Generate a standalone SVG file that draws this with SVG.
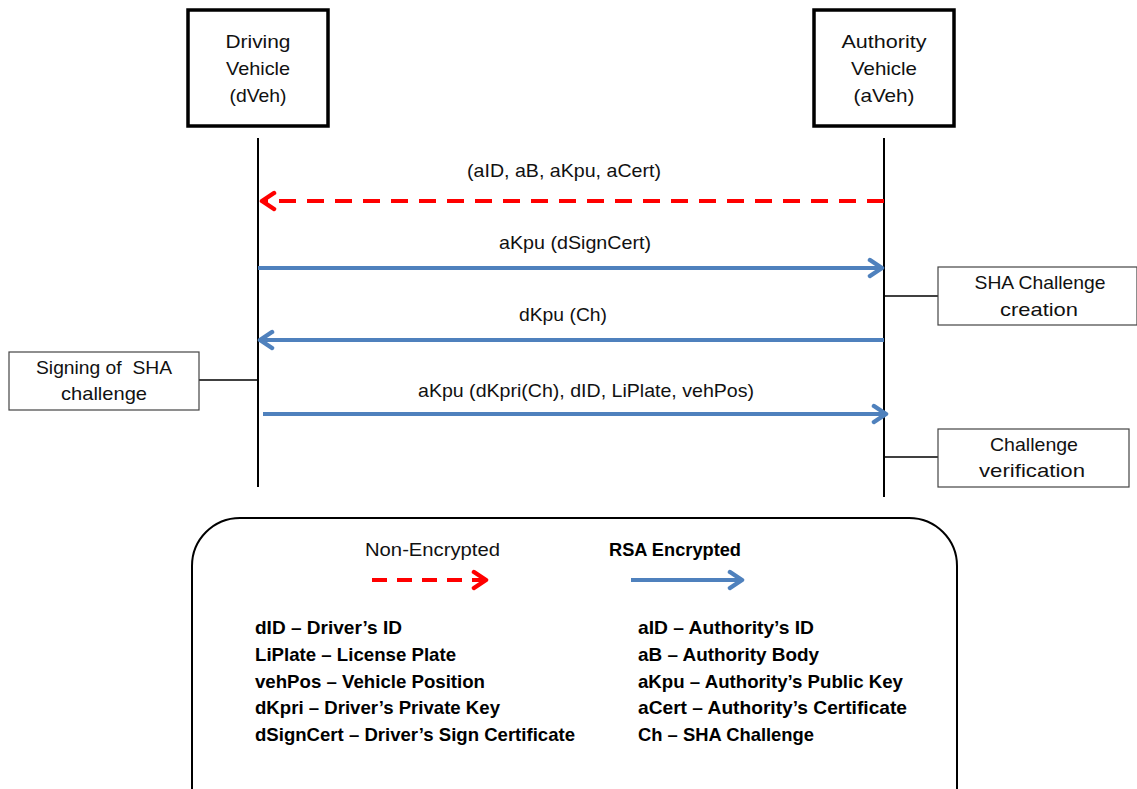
<svg xmlns="http://www.w3.org/2000/svg" width="1137" height="789" viewBox="0 0 1137 789">
  <style>
    text { font-family: "Liberation Sans", Arial, sans-serif; font-size: 18.5px; fill: #111; white-space: pre; }
    .mid { text-anchor: middle; }
    .bold { font-family: "Liberation Sans Narrow", "Liberation Sans", Arial, sans-serif; font-weight: bold; font-size: 19px; fill: #000; }
    .actor { fill: #fff; stroke: #000; stroke-width: 3.5; }
    .note { fill: #fff; stroke: #444; stroke-width: 1.2; }
    .life { stroke: #000; stroke-width: 2; fill: none; }
    .tick { stroke: #000; stroke-width: 1.6; fill: none; }
    .plain { stroke: #000; stroke-width: 2; fill: none; }
    .enc { stroke: #4F81BD; stroke-width: 4; fill: none; }
    .raw { stroke: #FF0000; stroke-width: 4; fill: none; stroke-dasharray: 17 11; }
  </style>
  <defs>
    <marker id="headBlue" markerUnits="userSpaceOnUse" viewBox="0 0 18 22" refX="15" refY="11" markerWidth="18" markerHeight="22" orient="auto">
      <path d="M3,3 L15,11 L3,19" fill="none" stroke="#4F81BD" stroke-width="4.5" stroke-linecap="round" stroke-linejoin="round"/>
    </marker>
    <marker id="headRed" markerUnits="userSpaceOnUse" viewBox="0 0 18 22" refX="15" refY="11" markerWidth="18" markerHeight="22" orient="auto">
      <path d="M3,3 L15,11 L3,19" fill="none" stroke="#FF0000" stroke-width="4.5" stroke-linecap="round" stroke-linejoin="round"/>
    </marker>
  </defs>

  <rect width="1137" height="789" fill="#fff"/>

  <!-- participants -->
  <g id="dVeh">
    <rect class="actor" x="188" y="10" width="140" height="116"/>
    <text class="mid" x="258" y="48" textLength="65" lengthAdjust="spacingAndGlyphs">Driving</text>
    <text class="mid" x="258" y="75" textLength="64" lengthAdjust="spacingAndGlyphs">Vehicle</text>
    <text class="mid" x="258" y="102" textLength="57" lengthAdjust="spacingAndGlyphs">(dVeh)</text>
  </g>
  <g id="aVeh">
    <rect class="actor" x="814" y="10" width="140" height="116"/>
    <text class="mid" x="884" y="48" textLength="85" lengthAdjust="spacingAndGlyphs">Authority</text>
    <text class="mid" x="884" y="75" textLength="66" lengthAdjust="spacingAndGlyphs">Vehicle</text>
    <text class="mid" x="884" y="102" textLength="61" lengthAdjust="spacingAndGlyphs">(aVeh)</text>
  </g>

  <!-- lifelines -->
  <g id="lifelines">
    <line class="life" x1="258" y1="138" x2="258" y2="487"/>
    <line class="life" x1="884" y1="138" x2="884" y2="497"/>
  </g>

  <!-- local processing notes -->
  <g id="noteCreate">
    <line class="tick" x1="884" y1="296" x2="938" y2="296"/>
    <rect class="note" x="938" y="267" width="199" height="58"/>
    <text class="mid" x="1040" y="289" textLength="131" lengthAdjust="spacingAndGlyphs">SHA Challenge</text>
    <text class="mid" x="1039" y="316" textLength="78" lengthAdjust="spacingAndGlyphs">creation</text>
  </g>
  <g id="noteVerify">
    <line class="tick" x1="884" y1="457" x2="938" y2="457"/>
    <rect class="note" x="938" y="429" width="191" height="58"/>
    <text class="mid" x="1034" y="451" textLength="88" lengthAdjust="spacingAndGlyphs">Challenge</text>
    <text class="mid" x="1032" y="477" textLength="106" lengthAdjust="spacingAndGlyphs">verification</text>
  </g>
  <g id="noteSign">
    <line class="tick" x1="199" y1="380" x2="258" y2="380"/>
    <rect class="note" x="9" y="352" width="190" height="58"/>
    <text class="mid" x="104" y="374" textLength="136" lengthAdjust="spacingAndGlyphs">Signing of  SHA</text>
    <text class="mid" x="104" y="400" textLength="86" lengthAdjust="spacingAndGlyphs">challenge</text>
  </g>

  <!-- messages -->
  <g id="messages">
    <line class="raw" x1="884" y1="201" x2="262" y2="201" marker-end="url(#headRed)"/>
    <text class="mid" x="564" y="177" textLength="194" lengthAdjust="spacingAndGlyphs">(aID, aB, aKpu, aCert)</text>

    <line class="enc" x1="258" y1="268" x2="882" y2="268" marker-end="url(#headBlue)"/>
    <text class="mid" x="575" y="249" textLength="152" lengthAdjust="spacingAndGlyphs">aKpu (dSignCert)</text>

    <line class="enc" x1="884" y1="340" x2="260" y2="340" marker-end="url(#headBlue)"/>
    <text class="mid" x="563" y="321" textLength="88" lengthAdjust="spacingAndGlyphs">dKpu (Ch)</text>

    <line class="enc" x1="263" y1="414" x2="886" y2="414" marker-end="url(#headBlue)"/>
    <text class="mid" x="586" y="397" textLength="336" lengthAdjust="spacingAndGlyphs">aKpu (dKpri(Ch), dID, LiPlate, vehPos)</text>
  </g>

  <!-- legend -->
  <g id="legend">
    <rect class="plain" x="192" y="518" width="765" height="320" rx="48" ry="48"/>
    <text x="365" y="556" textLength="135" lengthAdjust="spacingAndGlyphs">Non-Encrypted</text>
    <text class="bold" x="609" y="556" textLength="132" lengthAdjust="spacingAndGlyphs">RSA Encrypted</text>
    <line class="raw" x1="372" y1="580" x2="486" y2="580" marker-end="url(#headRed)" style="stroke-dasharray: 15 10"/>
    <line class="enc" x1="631" y1="580" x2="742" y2="580" marker-end="url(#headBlue)"/>

    <text class="bold" x="255" y="634" textLength="147" lengthAdjust="spacingAndGlyphs">dID – Driver’s ID</text>
    <text class="bold" x="255" y="661" textLength="201" lengthAdjust="spacingAndGlyphs">LiPlate – License Plate</text>
    <text class="bold" x="255" y="688" textLength="230" lengthAdjust="spacingAndGlyphs">vehPos – Vehicle Position</text>
    <text class="bold" x="255" y="714" textLength="245" lengthAdjust="spacingAndGlyphs">dKpri – Driver’s Private Key</text>
    <text class="bold" x="255" y="741" textLength="320" lengthAdjust="spacingAndGlyphs">dSignCert – Driver’s Sign Certificate</text>

    <text class="bold" x="638" y="634" textLength="176" lengthAdjust="spacingAndGlyphs">aID – Authority’s ID</text>
    <text class="bold" x="638" y="661" textLength="181" lengthAdjust="spacingAndGlyphs">aB – Authority Body</text>
    <text class="bold" x="638" y="688" textLength="265" lengthAdjust="spacingAndGlyphs">aKpu – Authority’s Public Key</text>
    <text class="bold" x="638" y="714" textLength="269" lengthAdjust="spacingAndGlyphs">aCert – Authority’s Certificate</text>
    <text class="bold" x="638" y="741" textLength="176" lengthAdjust="spacingAndGlyphs">Ch – SHA Challenge</text>
  </g>
</svg>
